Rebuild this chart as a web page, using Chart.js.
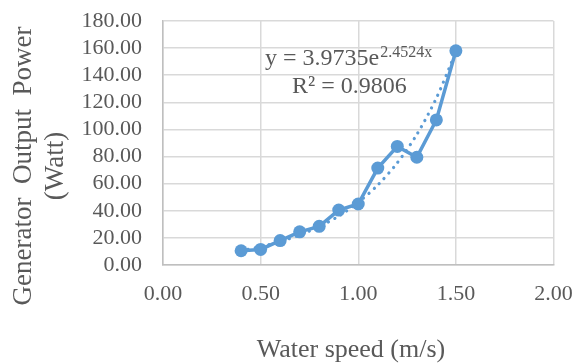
<!DOCTYPE html>
<html>
<head>
<meta charset="utf-8">
<script src="https://cdn.jsdelivr.net/npm/chart.js@4"></script>
<style>
  html, body { margin: 0; padding: 0; background: #fff; overflow: hidden; }
  #wrap { width: 600px; height: 363px; }
</style>
</head>
<body>
<div id="wrap"><canvas id="powerChart" width="600" height="363"></canvas></div>
<script>
// water speed (m/s) and measured power (W)
const waterSpeed = [0.4, 0.5, 0.6, 0.7, 0.8, 0.9, 1.0, 1.1, 1.2, 1.3, 1.4, 1.5];
const powerOut = [10.5, 11.5, 18, 24.5, 28.5, 40.5, 45, 71.5, 87.5, 79.5, 107, 158];
// exponential trendline
const trendPower = [10.6, 13.5, 17.3, 22.1, 28.3, 36.1, 46.2, 59.0, 75.4, 96.3, 123.1, 157.3];
const trendLabel = ["y = 3.9735e", "2.4524x", "R² = 0.9806"];
const yTitle = ["Generator  Output  Power", "(Watt)"];
const xTitle = "Water speed (m/s)";

const textColor = "#595959";
const blue = "#5b9bd5";
const serif = "'Liberation Serif', 'Times New Roman', serif";

const toPoints = (xs, ys) => xs.map((x, i) => ({ x: x, y: ys[i] }));

// titles and the trendline equation, drawn in Excel style
const textPlugin = {
  id: "textPlugin",
  afterDraw(chart) {
    const ctx = chart.ctx;
    ctx.save();
    ctx.fillStyle = textColor;

    // x axis title
    ctx.font = "26px " + serif;
    ctx.textAlign = "center";
    ctx.textBaseline = "alphabetic";
    ctx.fillText(xTitle, 351, 357);

    // y axis title, two rotated lines
    ctx.save();
    ctx.translate(0, 166);
    ctx.rotate(-Math.PI / 2);
    ctx.textBaseline = "middle";
    ctx.font = "27px " + serif;
    ctx.fillText(yTitle[0], 0, 24);
    ctx.fillText(yTitle[1], 0, 56);
    ctx.restore();

    // equation with superscript
    ctx.textAlign = "left";
    ctx.font = "24px " + serif;
    ctx.fillText(trendLabel[0], 265, 65);
    const w = ctx.measureText(trendLabel[0]).width;
    ctx.font = "16px " + serif;
    ctx.fillText(trendLabel[1], 265 + w + 1, 57);
    ctx.font = "24px " + serif;
    ctx.fillText(trendLabel[2], 292, 93);
    ctx.restore();
  }
};

new Chart(document.getElementById("powerChart"), {
  type: "scatter",
  data: {
    datasets: [
      {
        label: "Power",
        data: toPoints(waterSpeed, powerOut),
        showLine: true,
        borderColor: blue,
        backgroundColor: blue,
        borderWidth: 3.5,
        pointRadius: 6.5,
        pointBorderWidth: 0,
        pointHoverRadius: 6.5,
        tension: 0,
        order: 1
      },
      {
        label: "Expon. trend",
        data: toPoints(waterSpeed, trendPower),
        showLine: true,
        borderColor: blue,
        borderWidth: 3.2,
        borderDash: [0.1, 7],
        borderCapStyle: "round",
        pointRadius: 0,
        tension: 0.3,
        order: 2
      }
    ]
  },
  options: {
    responsive: false,
    animation: false,
    layout: { padding: { top: 21, right: 46.5, left: 0, bottom: 0 } },
    plugins: {
      legend: { display: false },
      tooltip: { enabled: false }
    },
    scales: {
      x: {
        type: "linear",
        min: 0,
        max: 2,
        afterFit(scale) { scale.height = 98; },
        ticks: {
          stepSize: 0.5,
          padding: 16,
          autoSkip: false,
          color: textColor,
          font: { family: serif, size: 22 },
          callback: (v) => v.toFixed(2)
        },
        grid: { color: "#d9d9d9", lineWidth: 1.5, drawTicks: false },
        border: { color: "#bfbfbf", width: 1.5 }
      },
      y: {
        min: 0,
        max: 180,
        afterFit(scale) {
          scale.width = 163;
          scale.paddingTop = 0;
          scale.paddingBottom = 0;
        },
        ticks: {
          stepSize: 20,
          padding: 21,
          autoSkip: false,
          color: textColor,
          font: { family: serif, size: 22 },
          callback: (v) => v.toFixed(2)
        },
        grid: { color: "#d9d9d9", lineWidth: 1.5, drawTicks: false },
        border: { color: "#bfbfbf", width: 1.5 }
      }
    }
  },
  plugins: [textPlugin]
});
</script>
</body>
</html>
